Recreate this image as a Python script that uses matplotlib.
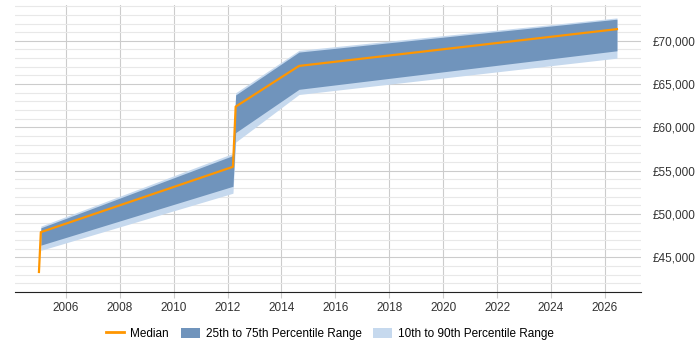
import numpy as np
import matplotlib.pyplot as plt
from matplotlib.ticker import MultipleLocator, FuncFormatter
from matplotlib.patches import Patch
from matplotlib.lines import Line2D

plt.rcParams['font.family'] = ['Liberation Sans', 'DejaVu Sans']

# Fechas (años decimales) y percentiles del salario
years = [2005.0, 2005.07, 2012.2, 2012.3, 2014.65, 2026.45]
median = [43300, 47900, 55450, 62400, 67100, 71350]
p25 = [46400, 46400, 53200, 59400, 64400, 68850]
p75 = [48400, 48400, 56750, 63750, 68700, 72500]
p10 = [45800, 45800, 52400, 58300, 63800, 68000]
p90 = [48600, 48600, 57000, 64000, 68900, 72650]

x = np.array(years)

fig = plt.figure(figsize=(7, 3.5), dpi=100)
ax = fig.add_axes([0.021, 0.166, 0.895, 0.82])

# bandas desde el segundo punto (el primero sólo tiene mediana)
ax.fill_between(x[1:], p10[1:], p90[1:], color='#c6d9ee', linewidth=0, zorder=2)
ax.fill_between(x[1:], p25[1:], p75[1:], color='#7094bc', linewidth=0, zorder=3)
ax.plot(x, median, color='#ff9600', linewidth=1.6, zorder=4)

ax.set_xlim(2004.1, 2027.35)
ax.set_ylim(41000, 74150)

ax.xaxis.set_major_locator(MultipleLocator(2))
ax.yaxis.set_major_locator(MultipleLocator(5000))
ax.yaxis.set_minor_locator(MultipleLocator(1000))
ax.yaxis.set_major_formatter(FuncFormatter(lambda v, p: f'£{int(v):,}'))

ax.grid(True, which='major', axis='both', color='#cccccc', linewidth=0.8, zorder=0)
ax.grid(True, which='minor', axis='y', color='#e8e8e8', linewidth=0.8, zorder=0)
ax.set_axisbelow(True)

ax.yaxis.tick_right()
for s in ['left', 'right', 'top']:
    ax.spines[s].set_visible(False)
ax.spines['bottom'].set_color('#222222')
ax.tick_params(axis='y', which='both', length=0, pad=8, labelsize=8.5, labelcolor='#333333')
ax.tick_params(axis='x', length=4, color='#cccccc', labelsize=8.5, labelcolor='#333333')

handles = [
    Line2D([0], [0], color='#ff9600', linewidth=2),
    Patch(facecolor='#7094bc', edgecolor='none'),
    Patch(facecolor='#c6d9ee', edgecolor='none'),
]
labels = ['Median', '25th to 75th Percentile Range', '10th to 90th Percentile Range']
fig.legend(handles, labels, loc='center', bbox_to_anchor=(0.471, 0.046), ncol=3,
           frameon=False, fontsize=8.5, handlelength=1.6, handleheight=1.0,
           columnspacing=1.0, handletextpad=0.5)

plt.savefig('out.png', dpi=100)
